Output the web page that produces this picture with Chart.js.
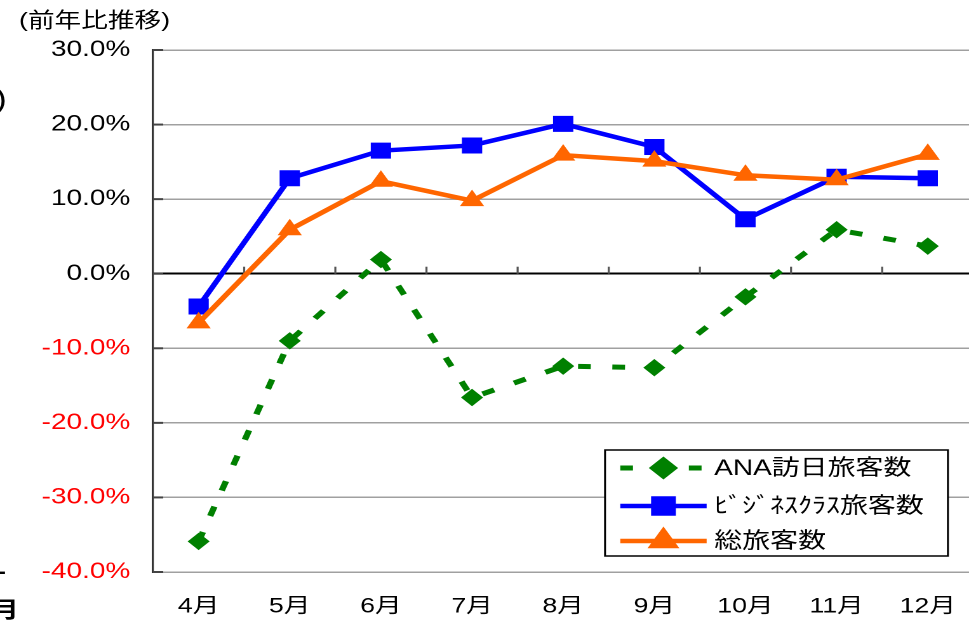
<!DOCTYPE html>
<html>
<head>
<meta charset="utf-8">
<script src="https://cdn.jsdelivr.net/npm/chart.js@4"></script>
<style>
    body { margin: 0; overflow: hidden; background: #fff; }
    /* the reference is stretched sideways, so the whole chart is drawn narrow and scaled */
    #wrap {
        position: absolute; left: 0; top: 0; width: 768px; height: 621px;
        transform: scaleX(1.27); transform-origin: 0 0;
        font-family: "Liberation Sans", "Noto Sans CJK JP", sans-serif;
    }
    #chartBox { position: absolute; left: 0; top: 0; width: 778px; height: 621px; }
    .txt { position: absolute; white-space: nowrap; color: #000; line-height: 1; }
</style>
</head>
<body>
<div id="wrap">
    <div id="chartBox"><canvas id="myChart"></canvas></div>
    <div class="txt" style="left:15px; top:9px; font-size:21px;">(前年比推移)</div>
    <div class="txt" style="left:-4px; top:85px; font-size:28px;">)</div>
    <div class="txt" style="left:-2px; top:561px; font-size:20px; font-weight:bold;">-</div>
    <div class="txt" style="left:-7px; top:599px; font-size:22px; font-weight:bold;">月</div>
</div>
<script>
// data
const months = ['4月', '5月', '6月', '7月', '8月', '9月', '10月', '11月', '12月'];
const anaValues = [-35.9, -9.0, 1.9, -16.6, -12.4, -12.6, -3.1, 5.9, 3.7];
const businessValues = [-4.4, 12.8, 16.5, 17.2, 20.1, 17.0, 7.3, 13.0, 12.8];
const totalValues = [-6.6, 5.9, 12.4, 9.8, 15.9, 15.1, 13.2, 12.6, 16.0];
const seriesNames = ['ANA訪日旅客数', 'ﾋﾞｼﾞﾈｽｸﾗｽ旅客数', '総旅客数'];
const yMin = -40, yMax = 30, yStep = 10;

const FONT = '"Liberation Sans", "Noto Sans CJK JP", sans-serif';

// tick marks on the zero line, short stubs on the y axis, and the boxed legend
const decorPlugin = {
    id: 'decor',
    beforeDatasetsDraw(chart) {
        const { ctx, chartArea: a, scales: { x, y } } = chart;
        const y0 = y.getPixelForValue(0);
        ctx.save();
        ctx.strokeStyle = '#555';
        ctx.lineWidth = 1.6;
        for (let i = 1; i < months.length; i++) {
            const px = (x.getPixelForValue(i - 1) + x.getPixelForValue(i)) / 2;
            ctx.beginPath();
            ctx.moveTo(px, y0 - 7);
            ctx.lineTo(px, y0);
            ctx.stroke();
        }
        ctx.strokeStyle = '#444';
        ctx.lineWidth = 2;
        y.ticks.forEach(t => {
            const py = y.getPixelForValue(t.value);
            ctx.beginPath();
            ctx.moveTo(a.left, py);
            ctx.lineTo(a.left + 8, py);
            ctx.stroke();
        });
        ctx.restore();
    },
    afterDraw(chart) {
        const { ctx, chartArea: a } = chart;
        const left = a.right - 290, top = a.bottom - 122, w = 270, h = 106;
        ctx.save();
        ctx.fillStyle = '#fff';
        ctx.fillRect(left, top, w, h);
        ctx.strokeStyle = '#000';
        ctx.lineWidth = 1.5;
        ctx.strokeRect(left, top, w, h);
        const rowY = [18, 56, 91];
        chart.data.datasets.forEach((ds, i) => {
            const cy = top + rowY[i];
            ctx.strokeStyle = ds.borderColor;
            ctx.lineWidth = ds.borderWidth;
            ctx.setLineDash(ds.borderDash || []);
            ctx.beginPath();
            ctx.moveTo(left + 12, cy);
            ctx.lineTo(left + 80, cy);
            ctx.stroke();
            ctx.setLineDash([]);
            ctx.fillStyle = ds.pointBackgroundColor;
            ctx.strokeStyle = ds.pointBorderColor;
            Chart.helpers.drawPoint(ctx, {
                pointStyle: ds.pointStyle, radius: ds.pointRadius, rotation: 0, borderWidth: ds.pointBorderWidth
            }, left + 46, cy);
            ctx.fillStyle = '#000';
            ctx.font = '22px ' + FONT;
            ctx.textBaseline = 'middle';
            ctx.textAlign = 'left';
            ctx.fillText(ds.label, left + 86, cy + 1);
        });
        ctx.restore();
    }
};

const ctx = document.getElementById('myChart').getContext('2d');

new Chart(ctx, {
    type: 'line',
    data: {
        labels: months,
        datasets: [{
            label: seriesNames[0],
            data: anaValues,
            borderColor: '#008000',
            borderWidth: 5,
            borderDash: [10, 17],
            pointStyle: 'rectRot',
            pointRadius: 8,
            pointBackgroundColor: '#008000',
            pointBorderColor: '#008000',
            pointBorderWidth: 1,
            order: 3
        }, {
            label: seriesNames[1],
            data: businessValues,
            borderColor: '#0000ff',
            borderWidth: 4.5,
            pointStyle: 'rect',
            pointRadius: 10.6,
            pointBackgroundColor: '#0000ff',
            pointBorderColor: '#0000ff',
            pointBorderWidth: 1,
            order: 2
        }, {
            label: seriesNames[2],
            data: totalValues,
            borderColor: '#ff6600',
            borderWidth: 4.5,
            pointStyle: 'triangle',
            pointRadius: 10,
            pointBackgroundColor: '#ff6600',
            pointBorderColor: '#ff6600',
            pointBorderWidth: 1,
            order: 1
        }]
    },
    options: {
        responsive: true,
        maintainAspectRatio: false,
        animation: false,
        devicePixelRatio: 2,
        layout: { padding: { left: 0, top: 50, right: 2.6, bottom: 0 } },
        plugins: {
            legend: { display: false },
            tooltip: { enabled: false }
        },
        elements: { line: { tension: 0 } },
        scales: {
            x: {
                offset: true,
                grid: { display: false, drawTicks: false },
                border: { display: false },
                ticks: {
                    color: '#000',
                    padding: 22,
                    maxRotation: 0,
                    font: { family: FONT, size: 21 }
                },
                afterFit: s => { s.height = 49; }
            },
            y: {
                min: yMin,
                max: yMax,
                grid: {
                    drawTicks: false,
                    color: c => (c.tick && c.tick.value === 0 ? '#000' : '#a0a0a0'),
                    lineWidth: c => (c.tick && c.tick.value === 0 ? 2 : 1.5)
                },
                border: { display: true, color: '#333', width: 1.6 },
                ticks: {
                    stepSize: yStep,
                    padding: 18,
                    color: c => (c.tick && c.tick.value < 0 ? '#ff0000' : '#000'),
                    font: { family: FONT, size: 22 },
                    callback: v => v.toFixed(1) + '%'
                },
                afterFit: s => { s.width = 120.5; }
            }
        }
    },
    plugins: [decorPlugin]
});
</script>
</body>
</html>
